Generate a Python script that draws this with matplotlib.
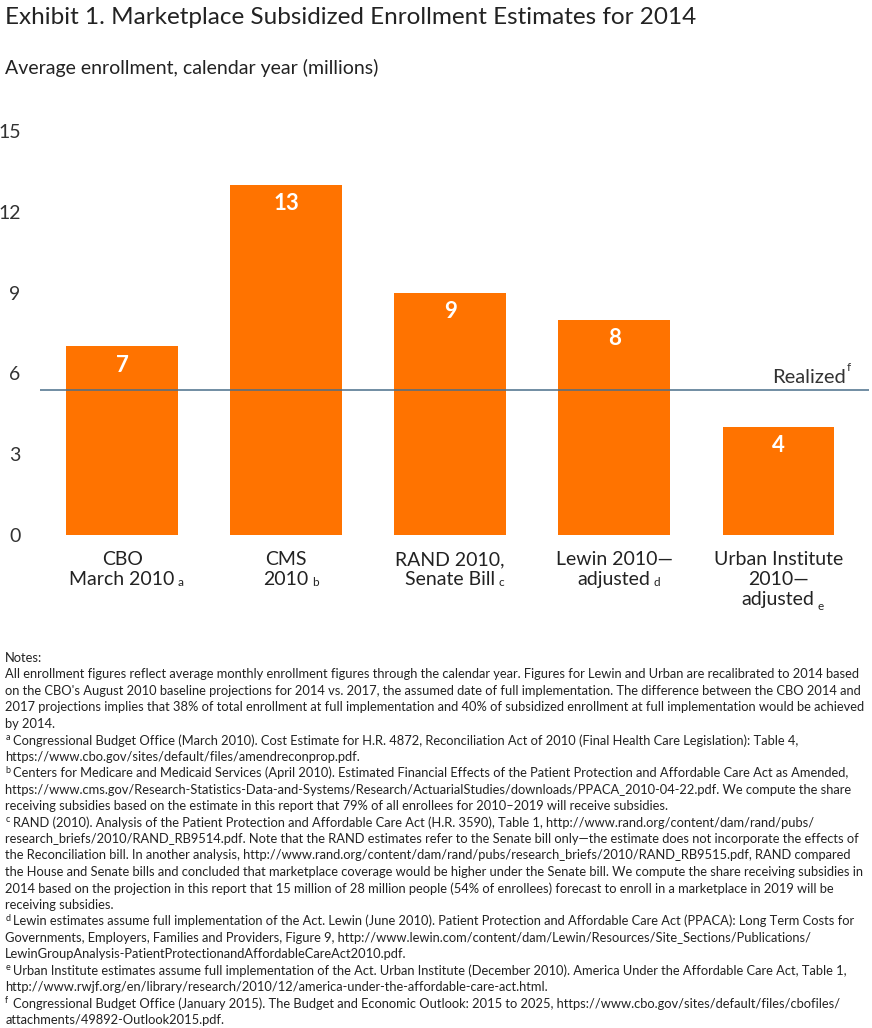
import matplotlib
matplotlib.use("Agg")
import matplotlib.pyplot as plt
from matplotlib.transforms import blended_transform_factory

plt.rcParams['font.family'] = ['Lato', 'DejaVu Sans']

categories = ["CBO\nMarch 2010", "CMS\n2010", "RAND 2010,\nSenate Bill", "Lewin 2010—\nadjusted", "Urban Institute\n2010—\nadjusted"]
sup_letters = ["a", "b", "c", "d", "e"]
values = [7, 13, 9, 8, 4]
realized = 5.4
yticks = [0, 3, 6, 9, 12, 15]

orange = "#FF7300"
fig = plt.figure(figsize=(8.72, 10.28), dpi=100)
ax = fig.add_axes([0.046, 1 - 535/1028, 0.95, (535 - 131)/1028])
x = list(range(len(values)))
ax.bar(x, values, width=0.68, color=orange)
ax.set_xlim(-0.5, 4.55)
ax.set_ylim(0, 15)
for s in ax.spines.values():
    s.set_visible(False)
ax.set_yticks(yticks)
ax.set_yticklabels([str(t) for t in yticks], fontsize=14, color="#333333")
ax.tick_params(axis='y', length=0, pad=14)
ax.set_xticks([])
for xi, v in zip(x, values):
    ax.text(xi, v - 0.3, str(v), ha='center', va='top', color='white', fontsize=16, fontweight='bold')
ax.axhline(realized, color="#4a6f8a", lw=1.1)
ax.text(4.41, realized + 0.15, "Realized", ha='right', va='bottom', fontsize=14.5, color="#333333")
ax.text(4.42, realized + 0.6, "f", ha='left', va='bottom', fontsize=8.5, color="#333333")

tr = blended_transform_factory(ax.transData, fig.transFigure)
line_px = 24
for xi, lab in zip(x, categories):
    ax.text(xi, 1 - 551/1028, lab, ha='center', va='top', fontsize=14, color="#222222",
            linespacing=1.2, transform=tr)
fig.canvas.draw()
r = fig.canvas.get_renderer()
for xi, lab, sl in zip(x, categories, sup_letters):
    lines = lab.split("\n")
    last = lines[-1]
    tmp = fig.text(0, 0, last, fontsize=14)
    w = tmp.get_window_extent(r).width
    tmp.remove()
    cx = ax.transData.transform((xi, 0))[0]
    ypix = 553 + 24 * (len(lines) - 1)
    fig.text((cx + w/2 + 3)/872, 1 - ypix/1028, sl, fontsize=8.5, va='top', ha='left', color="#222222")

fig.text(0.006, 1 - 18/1028, "Exhibit 1. Marketplace Subsidized Enrollment Estimates for 2014",
         fontsize=17.5, va='center', color="#222222")
fig.text(0.006, 1 - 68/1028, "Average enrollment, calendar year (millions)",
         fontsize=14, va='center', color="#222222")

notes = [
    ("", "Notes:"),
    ("", "All enrollment figures reflect average monthly enrollment figures through the calendar year. Figures for Lewin and Urban are recalibrated to 2014 based"),
    ("", "on the CBO's August 2010 baseline projections for 2014 vs. 2017, the assumed date of full implementation. The difference between the CBO 2014 and"),
    ("", "2017 projections implies that 38% of total enrollment at full implementation and 40% of subsidized enrollment at full implementation would be achieved"),
    ("", "by 2014."),
    ("a", "Congressional Budget Office (March 2010). Cost Estimate for H.R. 4872, Reconciliation Act of 2010 (Final Health Care Legislation): Table 4,"),
    ("", "https://www.cbo.gov/sites/default/files/amendreconprop.pdf."),
    ("b", "Centers for Medicare and Medicaid Services (April 2010). Estimated Financial Effects of the Patient Protection and Affordable Care Act as Amended,"),
    ("", "https://www.cms.gov/Research-Statistics-Data-and-Systems/Research/ActuarialStudies/downloads/PPACA_2010-04-22.pdf. We compute the share"),
    ("", "receiving subsidies based on the estimate in this report that 79% of all enrollees for 2010–2019 will receive subsidies."),
    ("c", "RAND (2010). Analysis of the Patient Protection and Affordable Care Act (H.R. 3590), Table 1, http://www.rand.org/content/dam/rand/pubs/"),
    ("", "research_briefs/2010/RAND_RB9514.pdf. Note that the RAND estimates refer to the Senate bill only—the estimate does not incorporate the effects of"),
    ("", "the Reconciliation bill. In another analysis, http://www.rand.org/content/dam/rand/pubs/research_briefs/2010/RAND_RB9515.pdf, RAND compared"),
    ("", "the House and Senate bills and concluded that marketplace coverage would be higher under the Senate bill. We compute the share receiving subsidies in"),
    ("", "2014 based on the projection in this report that 15 million of 28 million people (54% of enrollees) forecast to enroll in a marketplace in 2019 will be"),
    ("", "receiving subsidies."),
    ("d", "Lewin estimates assume full implementation of the Act. Lewin (June 2010). Patient Protection and Affordable Care Act (PPACA): Long Term Costs for"),
    ("", "Governments, Employers, Families and Providers, Figure 9, http://www.lewin.com/content/dam/Lewin/Resources/Site_Sections/Publications/"),
    ("", "LewinGroupAnalysis-PatientProtectionandAffordableCareAct2010.pdf."),
    ("e", "Urban Institute estimates assume full implementation of the Act. Urban Institute (December 2010). America Under the Affordable Care Act, Table 1,"),
    ("", "http://www.rwjf.org/en/library/research/2010/12/america-under-the-affordable-care-act.html."),
    ("f", "Congressional Budget Office (January 2015). The Budget and Economic Outlook: 2015 to 2025, https://www.cbo.gov/sites/default/files/cbofiles/"),
    ("", "attachments/49892-Outlook2015.pdf."),
]
y0 = 658
dy = 16.45
for i, (sup, line) in enumerate(notes):
    yp = y0 + i * dy
    xoff = 0.006
    if sup:
        fig.text(xoff, 1 - (yp - 3)/1028, sup, fontsize=6.5, va='center', color="#222222")
        xoff += 0.009
    fig.text(xoff, 1 - yp/1028, line, fontsize=9.3, va='center', color="#222222")

fig.savefig("out.png", dpi=100)
